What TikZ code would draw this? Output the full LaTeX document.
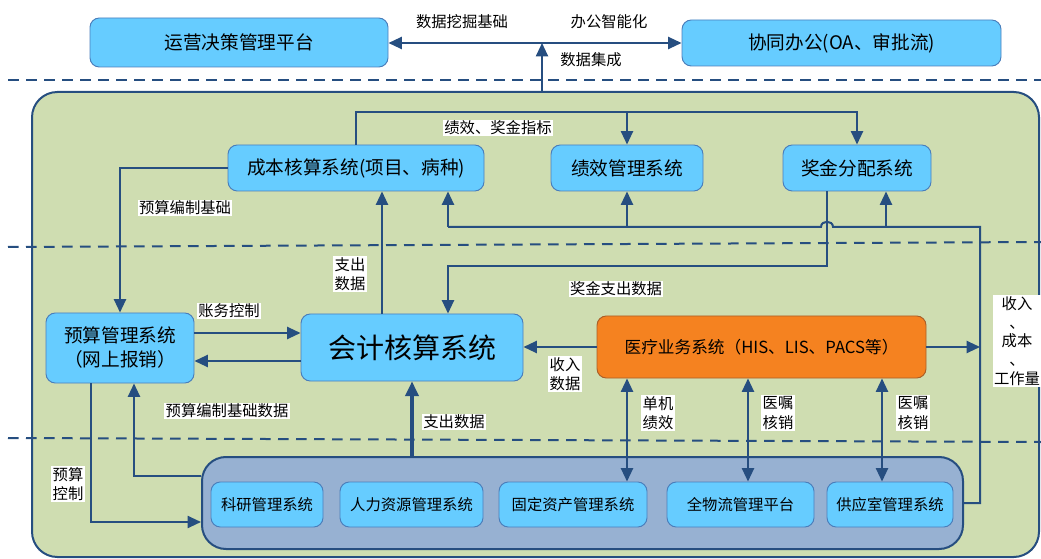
\documentclass[tikz,border=0pt]{standalone}
\usepackage{fontspec}
\setmainfont{Noto Sans CJK SC}
\usetikzlibrary{arrows.meta,fit}
\definecolor{lineblue}{RGB}{38,78,128}
\definecolor{boxfill}{RGB}{102,204,255}
\definecolor{boxborder}{RGB}{74,126,187}
\definecolor{greenbg}{RGB}{207,221,177}
\definecolor{subfill}{RGB}{151,177,210}
\definecolor{hisfill}{RGB}{245,130,32}
\definecolor{hisborder}{RGB}{170,95,40}
\tikzset{
  area/.style n args={4}{at={({(#1+#3)/2},{(#2+#4)/2})}, minimum width={(#3-#1)*0.75pt}, minimum height={(#4-#2)*0.75pt}},
  sysbox/.style={draw=boxborder, line width=0.7pt, fill=boxfill, rounded corners=7pt, inner sep=0pt, align=center, font=\fontsize{14}{18}\selectfont},
  smallbox/.style={sysbox, font=\fontsize{11.5}{14}\selectfont},
  conn/.style={draw=lineblue, line width=1.5pt},
  arr/.style={conn, -{Triangle[length=10pt,width=9pt]}},
  arrboth/.style={conn, {Triangle[length=10pt,width=9pt]}-{Triangle[length=10pt,width=9pt]}},
  arrthick/.style={draw=lineblue, line width=2.3pt, -{Triangle[length=11pt,width=10pt]}},
  dashline/.style={draw=lineblue, line width=1.5pt, dash pattern=on 8pt off 5.5pt},
  lbl/.style={fill=white, inner sep=1pt, align=center, font=\fontsize{11.5}{14.5}\selectfont},
}
\begin{document}
\begin{tikzpicture}[x=0.75pt,y=-0.75pt]
\useasboundingbox (0,0) rectangle (1041,559);
% containers
\node[draw=lineblue, line width=1.5pt, fill=greenbg, rounded corners=19pt, inner sep=0pt, area={32}{92}{1039}{557}] (main) {};
\draw[dashline] (8,80) -- (1041,80);
\draw[dashline] (8,247) -- (1041,242);
\draw[dashline] (8,438) -- (1041,442);
\node[draw=lineblue, line width=1.5pt, fill=subfill, rounded corners=18pt, inner sep=0pt, area={202}{457}{963}{549}] (sub) {};

% boxes
\node[sysbox, area={90}{18}{388}{67}] (op) {运营决策管理平台};
\node[sysbox, area={682}{20}{1001}{66}] (oa) {协同办公(OA、审批流)};
\node[sysbox, area={228}{145}{484}{191}] (cost) {成本核算系统(项目、病种)};
\node[sysbox, area={551}{145}{703}{191}] (perf) {绩效管理系统};
\node[sysbox, area={783}{145}{931}{191}] (bonus) {奖金分配系统};
\node[sysbox, area={46}{313}{194}{383}] (budget) {预算管理系统\\（网上报销）};
\node[sysbox, area={301}{314}{523}{381}, font=\fontsize{21}{24}\selectfont] (acct) {会计核算系统};
\node[sysbox, draw=hisborder, fill=hisfill, area={597}{316}{926}{378}, font=\fontsize{12.5}{15}\selectfont] (his) {医疗业务系统（HIS、LIS、PACS等）};
\node[smallbox, area={211}{482}{323}{527}] (ky) {科研管理系统};
\node[smallbox, area={340}{482}{483}{527}] (hr) {人力资源管理系统};
\node[smallbox, area={499}{482}{647}{527}] (fa) {固定资产管理系统};
\node[smallbox, area={667}{482}{814}{527}] (wl) {全物流管理平台};
\node[smallbox, area={827}{482}{953}{527}] (gy) {供应室管理系统};

% helper coordinates
\coordinate (hub) at (542,43);
\coordinate (t1) at (356,112);
\coordinate (b1) at (827,266);
\coordinate (b2) at (448,266);
\coordinate (r2) at (980,227);
\coordinate (r3) at (448,227);
\coordinate (r4) at (886,227);
\coordinate (h1) at (833,227);
\coordinate (h2) at (821,227);
\coordinate (rv) at (980,347);
\coordinate (x382) at (382,0);
\coordinate (x412) at (412,0);
\coordinate (x134) at (134,0);
\coordinate (x91) at (91,0);
\coordinate (x627) at (627,0);
\coordinate (x748) at (748,0);
\coordinate (x882) at (882,0);
\coordinate (y333) at (0,333);
\coordinate (y361) at (0,361);
\coordinate (y476) at (0,476);
\coordinate (y522) at (0,522);

% connectors
\draw[arr] (main.north -| hub) -- (hub);
\draw[arr] (hub) -- (hub -| op.east);
\draw[arr] (hub) -- (hub -| oa.west);
\draw[arr] (cost.north) -- (t1) -| (bonus.north);
\draw[arr] (t1) -| (perf.north);
\draw[arr] (cost.west) -| (budget.north);
\draw[arr] (acct.north -| x382) -- (cost.south -| x382);
\draw[arr] (bonus.south -| b1) -- (b1) -- (b2) -- (acct.north -| b2);
\draw[conn] (sub.east) -- (sub.east -| r2) -- (r2) -- (h1) .. controls (833,220) and (821,220) .. (h2) -- (r3);
\draw[arr] (r3) -- (cost.south -| r3);
\draw[arr] (perf.south |- r3) -- (perf.south);
\draw[arr] (r4) -- (bonus.south -| r4);
\draw[arr] (his.west) -- (his.west -| acct.east);
\draw[arr] (his.east) -- (rv);
\draw[arr] (budget.east |- y333) -- (acct.west |- y333);
\draw[arr] (acct.west |- y361) -- (budget.east |- y361);
\draw[arrthick] (sub.north -| x412) -- (acct.south -| x412);
\draw[arr] (sub.west |- y476) -| (budget.south -| x134);
\draw[arr] (budget.south -| x91) |- (sub.west |- y522);
\draw[arrboth] (his.south -| x627) -- (fa.north -| x627);
\draw[arrboth] (his.south -| x748) -- (wl.north -| x748);
\draw[arrboth] (his.south -| x882) -- (gy.north -| x882);

% labels
\node[lbl] (l1) at (462,22) {数据挖掘基础};
\node[lbl] (l2) at (609,22) {办公智能化};
\node[lbl] (l3) at (591,60) {数据集成};
\node[lbl] (l4) at (498,128) {绩效、奖金指标};
\node[lbl] (l5) at (185,208) {预算编制基础};
\node[lbl] (l6) at (350,274) {支出\\数据};
\node[lbl] (l7) at (616,289) {奖金支出数据};
\node[lbl] (l8) at (229,311) {账务控制};
\node[lbl] (l9) at (565,374) {收入\\数据};
\node[lbl, font=\fontsize{11.5}{14}\selectfont] (l10) at (1017,341) {收入\\、\\成本\\、\\工作量};
\node[lbl] (l11) at (227,411) {预算编制基础数据};
\node[lbl] (l12) at (454,422) {支出数据};
\node[lbl] (l13) at (658,413) {单机\\绩效};
\node[lbl] (l14) at (778,413) {医嘱\\核销};
\node[lbl] (l15) at (913,413) {医嘱\\核销};
\node[lbl] (l16) at (68,484) {预算\\控制};
\end{tikzpicture}
\end{document}
